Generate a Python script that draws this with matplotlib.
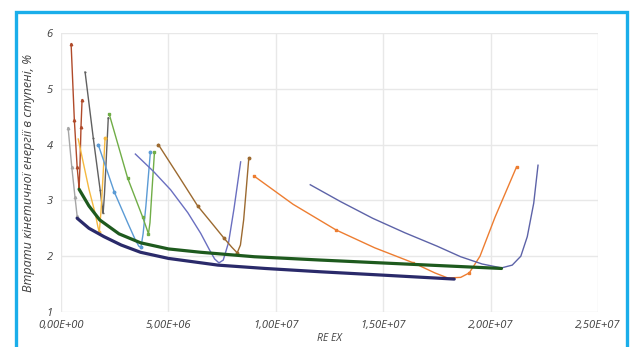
#!/usr/bin/env python3
"""Втрати кінетичної енергії в ступені vs RE EX."""

import matplotlib
matplotlib.use("Agg")
import matplotlib.pyplot as plt
from matplotlib.patches import Rectangle
from matplotlib.ticker import FuncFormatter

plt.rcParams['font.family'] = ['Open Sans', 'DejaVu Sans']

# thin curves (x in RE EX, y in %)
gray_x = [0.33e6, 0.5e6, 0.65e6, 0.72e6, 0.75e6]
gray_y = [4.3, 3.6, 3.06, 2.82, 2.72]

red_x = [0.47e6, 0.62e6, 0.75e6, 0.82e6, 0.84e6, 0.88e6, 0.93e6, 0.98e6]
red_y = [5.8, 4.44, 3.6, 3.3, 3.2, 3.6, 4.32, 4.8]

dgray_x = [1.12e6, 1.5e6, 1.82e6, 1.92e6, 1.96e6, 2.02e6, 2.1e6, 2.2e6]
dgray_y = [5.3, 4.12, 3.19, 2.88, 2.77, 3.1, 3.7, 4.48]

yellow_x = [0.8e6, 1.3e6, 1.6e6, 1.72e6, 1.78e6, 1.86e6, 1.95e6, 2.05e6]
yellow_y = [4.1, 3.2, 2.75, 2.52, 2.43, 2.8, 3.4, 4.12]

blue_x = [1.73e6, 2.48e6, 3.1e6, 3.45e6, 3.62e6, 3.72e6, 3.82e6, 3.95e6, 4.16e6]
blue_y = [4.0, 3.15, 2.6, 2.3, 2.18, 2.16, 2.4, 2.9, 3.87]

green_x = [2.24e6, 3.1e6, 3.8e6, 4.0e6, 4.07e6, 4.14e6, 4.22e6, 4.35e6]
green_y = [4.55, 3.4, 2.7, 2.48, 2.4, 2.6, 3.1, 3.87]

slate_x = [3.46e6, 4.3e6, 5.1e6, 5.9e6, 6.5e6, 6.9e6, 7.15e6, 7.35e6, 7.55e6, 7.8e6, 8.05e6, 8.36e6]
slate_y = [3.83, 3.52, 3.19, 2.78, 2.41, 2.12, 1.95, 1.88, 1.93, 2.25, 2.85, 3.69]

brown_x = [4.53e6, 5.5e6, 6.36e6, 7.0e6, 7.57e6, 7.95e6, 8.2e6, 8.35e6, 8.5e6, 8.62e6, 8.74e6]
brown_y = [4.0, 3.42, 2.9, 2.6, 2.33, 2.16, 2.06, 2.2, 2.65, 3.2, 3.76]

orange_x = [8.97e6, 1.08e7, 1.28e7, 1.46e7, 1.64e7, 1.74e7, 1.8e7, 1.86e7, 1.9e7, 1.95e7, 2.02e7, 2.12e7]
orange_y = [3.44, 2.93, 2.47, 2.15, 1.88, 1.7, 1.61, 1.62, 1.7, 2.0, 2.7, 3.6]

navy2_x = [1.16e7, 1.3e7, 1.45e7, 1.6e7, 1.75e7, 1.86e7, 1.96e7, 2.05e7, 2.1e7, 2.14e7,
           2.17e7, 2.2e7, 2.22e7]
navy2_y = [3.28, 2.98, 2.68, 2.42, 2.18, 1.99, 1.86, 1.79, 1.84, 2.0, 2.35, 2.95, 3.63]

# thick envelope curves
env_green_x = [0.84e6, 1.3e6, 1.8e6, 2.7e6, 3.7e6, 5.0e6, 6.5e6, 9.0e6, 1.21e7, 1.6e7, 2.05e7]
env_green_y = [3.2, 2.9, 2.65, 2.4, 2.24, 2.13, 2.07, 1.99, 1.93, 1.86, 1.78]

env_navy_x = [0.75e6, 1.3e6, 2.0e6, 2.8e6, 3.7e6, 5.0e6, 7.3e6, 9.5e6, 1.21e7, 1.5e7, 1.83e7]
env_navy_y = [2.68, 2.5, 2.35, 2.2, 2.07, 1.96, 1.84, 1.78, 1.72, 1.66, 1.59]

# (x, y, colour, marker, which points carry a marker)
thin = [
    (gray_x, gray_y, '#a5a5a5', '^', [0, 1, 2, 4]),
    (red_x, red_y, '#b04a2a', '^', [0, 1, 2, 6, 7]),
    (dgray_x, dgray_y, '#606060', '_', [0, 1, 2, 4, 7]),
    (yellow_x, yellow_y, '#f5b940', 'o', [4, 7]),
    (blue_x, blue_y, '#5b9bd5', 'o', [0, 1, 5, 8]),
    (green_x, green_y, '#70ad47', 's', [0, 1, 2, 4, 7]),
    (slate_x, slate_y, '#6a6fc0', None, None),
    (brown_x, brown_y, '#9c6a30', 'o', [0, 2, 4, 6, 10]),
    (orange_x, orange_y, '#ed7d31', 's', [0, 2, 4, 8, 11]),
    (navy2_x, navy2_y, '#5d63a8', None, None),
]

fig = plt.figure(figsize=(6.33, 3.47), dpi=100)
ax = fig.add_axes([0.0964, 0.1009, 0.8486, 0.8041])

for xs, ys, c, m, every in thin:
    ax.plot(xs, ys, color=c, lw=1.0, marker=m, ms=1.8, markevery=every)

ax.plot(env_green_x, env_green_y, color='#1e5a1e', lw=2.3, solid_capstyle='round')
ax.plot(env_navy_x, env_navy_y, color='#2a2a6a', lw=2.3, solid_capstyle='round')

ax.set_xlim(0, 2.5e7)
ax.set_ylim(1, 6)
ax.set_xticks([0, 5e6, 1e7, 1.5e7, 2e7, 2.5e7])
ax.set_yticks([1, 2, 3, 4, 5, 6])
ax.xaxis.set_major_formatter(FuncFormatter(lambda v, p: f"{v:.2E}".replace('.', ',')))
ax.grid(True, color='#e8e8e8', lw=1.0)
ax.set_axisbelow(True)
for s in ax.spines.values():
    s.set_visible(False)
ax.tick_params(length=0, labelsize=8, colors='#404040', pad=6)
for lab in ax.get_xticklabels() + ax.get_yticklabels():
    lab.set_fontstyle('italic')

ax.set_xlabel('RE EX', fontsize=7.5, fontstyle='italic', color='#404040', labelpad=1)
ax.set_ylabel('Втрати кінетичної енергії в ступені, %', fontsize=9,
              fontstyle='italic', color='#404040', labelpad=8)

# cyan frame round the figure
fig.patches.append(Rectangle((0.025, -0.05), 0.965, 1.015, transform=fig.transFigure,
                             fill=False, edgecolor='#1aaeea', lw=2.4))

fig.savefig('out.png', dpi=100)
